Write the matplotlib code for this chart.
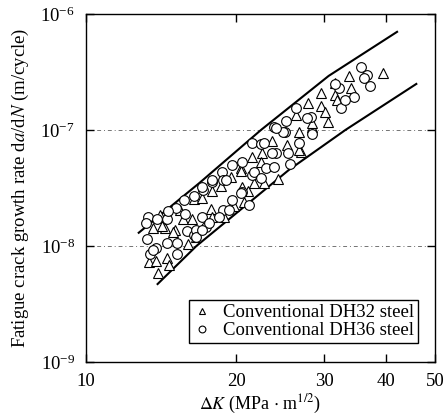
import numpy as np
import matplotlib.pyplot as plt
from matplotlib.ticker import FixedLocator, FixedFormatter, NullLocator, LogFormatterMathtext

plt.rcParams['font.family'] = ['Liberation Serif', 'DejaVu Serif']
plt.rcParams['mathtext.fontset'] = 'stix'

# Conventional DH32 steel (triangles)
dk_dh32 = [13.6, 14.37, 15.04, 15.61, 16.34, 17.82, 16.49, 17.1, 18.66, 19.54,
           20.45, 21.51, 22.5, 23.6, 25.3, 26.9, 24.24, 22.73, 21.71, 20.55,
           20.74, 19.81, 18.92, 17.9, 16.64, 26.69, 28.33, 39.42, 33.57, 31.5,
           31.5, 29.6, 29.6, 30.1, 30.5, 27.8, 28.33, 26.3, 33.9, 31.8,
           13.35, 13.78, 14.5, 14.64, 13.91, 26.69, 22.4, 17.9, 21.1, 20.45,
           14.17, 15.97, 14.91, 15.39, 14.04]
dadn_dh32 = [1.43e-8, 1.43e-8, 1.37e-8, 1.71e-8, 1.71e-8, 2.08e-8, 2.54e-8, 2.6e-8, 3.3e-8, 3.9e-8,
             4.7e-8, 5.9e-8, 6.3e-8, 8.0e-8, 7.4e-8, 6.5e-8, 3.8e-8, 3.5e-8, 3.5e-8, 3.2e-8,
             2.4e-8, 2.2e-8, 1.79e-8, 1.79e-8, 1.2e-8, 9.6e-8, 1.06e-7, 3.1e-7, 2.9e-7, 2.55e-7,
             2.0e-7, 2.08e-7, 1.6e-7, 1.43e-7, 1.17e-7, 1.7e-7, 1.15e-7, 1.35e-7, 2.3e-7, 1.81e-7,
             7.3e-9, 7.4e-9, 7.9e-9, 6.8e-9, 5.8e-9, 6.7e-8, 5.3e-8, 2.95e-8, 2.95e-8, 4.4e-8,
             1.5e-8, 1.03e-8, 1.32e-8, 2.04e-8, 1.86e-8]

# Conventional DH36 steel (circles)
dk_dh36 = [13.29, 13.17, 13.85, 14.5, 15.11, 15.68, 16.42, 17.18, 17.9, 18.75,
           18.84, 19.63, 20.55, 21.51, 22.42, 23.8, 25.03, 13.23, 13.41, 13.78,
           14.5, 15.18, 15.9, 16.49, 17.42, 18.84, 17.1, 19.63, 20.55, 21.51,
           22.94, 24.02, 25.38, 25.61, 26.69, 28.33, 35.6, 36.5, 36.0, 37.0,
           34.5, 32.2, 32.4, 28.2, 27.7, 26.3, 25.15, 24.8, 31.5, 33.1,
           24.02, 22.73, 23.6, 21.7, 22.4, 23.8, 19.1, 17.9, 17.1, 19.36,
           18.5, 17.66, 16.64, 21.22, 20.45, 16.64, 17.1, 15.18, 13.6, 14.57,
           15.75]
dadn_dh36 = [1.79e-8, 1.58e-8, 1.71e-8, 1.71e-8, 2.12e-8, 2.49e-8, 2.7e-8, 3.04e-8, 3.56e-8, 4.3e-8,
             3.71e-8, 5.0e-8, 5.3e-8, 7.7e-8, 7.6e-8, 1.06e-7, 9.6e-8, 1.15e-8, 8.6e-9, 9.6e-9,
             1.06e-8, 8.6e-9, 1.35e-8, 1.25e-8, 1.47e-8, 2.04e-8, 1.79e-8, 2.49e-8, 2.9e-8, 4.1e-8,
             4.7e-8, 6.3e-8, 6.3e-8, 5.1e-8, 7.7e-8, 9.3e-8, 3.5e-7, 3.0e-7, 2.8e-7, 2.4e-7,
             1.94e-7, 2.3e-7, 1.55e-7, 1.3e-7, 1.27e-7, 1.55e-7, 1.2e-7, 9.6e-8, 2.5e-7, 1.81e-7,
             1.04e-7, 7.7e-8, 6.3e-8, 4.3e-8, 3.85e-8, 4.8e-8, 3.7e-8, 3.7e-8, 3.2e-8, 2.04e-8,
             1.79e-8, 1.58e-8, 1.37e-8, 2.25e-8, 2.85e-8, 1.2e-8, 1.37e-8, 1.06e-8, 9.2e-9, 2.0e-8,
             1.9e-8]

# scatter band bounds
dk_upper = [12.75, 16.87, 22.42, 30.63, 42.0]
dadn_upper = [1.30e-8, 3.49e-8, 1.0e-7, 2.92e-7, 7.0e-7]
dk_lower = [13.91, 16.64, 25.49, 33.1, 45.9]
dadn_lower = [4.7e-9, 1.0e-8, 4.52e-8, 1.0e-7, 2.49e-7]

xticks = [10, 20, 30, 40, 50]
yticks = [1e-9, 1e-8, 1e-7, 1e-6]

fig = plt.figure(figsize=(4.46, 4.20), dpi=100)
ax = fig.add_axes([0.193, 0.138, 0.782, 0.829])

for yv in [1e-7, 1e-8]:
    ax.axhline(yv, color='0.45', lw=0.7, ls=(0, (4, 3, 1, 3)), zorder=0)

ax.plot(dk_upper, dadn_upper, color='black', lw=1.5)
ax.plot(dk_lower, dadn_lower, color='black', lw=1.5)

ax.plot(dk_dh32, dadn_dh32, ls='none', marker='^', ms=7, mfc='white', mec='black',
        mew=0.8, label='Conventional DH32 steel')
ax.plot(dk_dh36, dadn_dh36, ls='none', marker='o', ms=7, mfc='white', mec='black',
        mew=0.8, label='Conventional DH36 steel')

ax.set_xscale('log')
ax.set_yscale('log')
ax.set_xlim(10, 50)
ax.set_ylim(1e-9, 1e-6)

ax.xaxis.set_major_locator(FixedLocator(xticks))
ax.xaxis.set_major_formatter(FixedFormatter([str(v) for v in xticks]))
ax.xaxis.set_minor_locator(NullLocator())
ax.yaxis.set_major_locator(FixedLocator(yticks))
ax.yaxis.set_major_formatter(LogFormatterMathtext())
ax.yaxis.set_minor_locator(NullLocator())

ax.tick_params(which='major', direction='in', length=6, width=1.0,
               top=True, right=True, labelsize=13.5, pad=8)
for sp in ax.spines.values():
    sp.set_linewidth(1.0)

ax.set_xlabel(r'$\Delta K$ (MPa $\cdot$ m$^{1/2}$)', fontsize=13, labelpad=2)
ax.set_ylabel(r'Fatigue crack growth rate d$a$/d$N$ (m/cycle)', fontsize=13.5, labelpad=7)

leg = ax.legend(loc='lower right', fontsize=13.5, markerscale=0.7, frameon=True,
                fancybox=False, edgecolor='black', framealpha=1, handlelength=1.0,
                handletextpad=0.6, borderpad=0.2, labelspacing=0.05, borderaxespad=0,
                bbox_to_anchor=(0.951, 0.055))
leg.get_frame().set_linewidth(1.0)

fig.savefig('out.png', dpi=100)
